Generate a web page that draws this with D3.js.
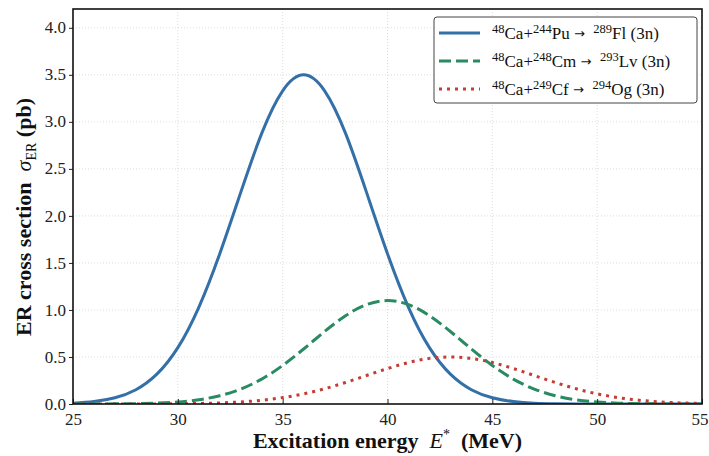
<!DOCTYPE html>
<html>
<head>
<meta charset="utf-8">
<script src="https://cdn.jsdelivr.net/npm/d3@7"></script>
<style>
  html, body { margin: 0; padding: 0; background: #fff; }
  svg { display: block; font-family: "Liberation Serif", "DejaVu Serif", serif; }
</style>
</head>
<body>
<div id="chart"></div>
<script>
// excitation energy grid (MeV) and cross sections (pb)
const energy = [25, 26, 27, 28, 29, 30, 31, 32, 33, 34, 35, 36, 37, 38, 39, 40,
  41, 42, 43, 44, 45, 46, 47, 48, 49, 50, 51, 52, 53, 54, 55];

const flValues = [0.009, 0.026, 0.066, 0.152, 0.317, 0.599, 1.028, 1.598, 2.25, 2.877, 3.33, 3.5,
  3.33, 2.877, 2.25, 1.598, 1.028, 0.599, 0.317, 0.152, 0.066, 0.026, 0.009, 0.003, 0.001, 0.0003,
  0.0001, 0, 0, 0, 0];
const lvValues = [0.0002, 0.0005, 0.0014, 0.0037, 0.0092, 0.021, 0.045, 0.088, 0.159, 0.265, 0.41,
  0.585, 0.771, 0.939, 1.057, 1.1, 1.057, 0.939, 0.771, 0.585, 0.41, 0.265, 0.159, 0.088, 0.045,
  0.021, 0.0092, 0.0037, 0.0014, 0.0005, 0.0002];
const ogValues = [0, 0.0001, 0.0002, 0.0004, 0.0011, 0.0026, 0.0056, 0.0114, 0.022, 0.040, 0.068,
  0.108, 0.162, 0.229, 0.303, 0.377, 0.441, 0.485, 0.5, 0.485, 0.441, 0.377, 0.303, 0.229, 0.162,
  0.108, 0.068, 0.040, 0.022, 0.0114, 0.0056];

const xTicks = [25, 30, 35, 40, 45, 50, 55];
const yTicks = [0, 0.5, 1, 1.5, 2, 2.5, 3, 3.5, 4];

// legend pieces: [projectile A, projectile+, target A, target, product A, product]
const series = [
  { name: ['48', 'Ca+', '244', 'Pu', '289', 'Fl (3n)'], values: flValues, color: '#3370a8', dash: null },
  { name: ['48', 'Ca+', '248', 'Cm', '293', 'Lv (3n)'], values: lvValues, color: '#2a8a62', dash: '12,5' },
  { name: ['48', 'Ca+', '249', 'Cf', '294', 'Og (3n)'], values: ogValues, color: '#c43c35', dash: '3,5' },
];

const W = 709, H = 456;
const M = { top: 9, right: 7, bottom: 52, left: 73 };
const iw = W - M.left - M.right, ih = H - M.top - M.bottom;

const svg = d3.select('#chart').append('svg').attr('width', W).attr('height', H);
const g = svg.append('g').attr('transform', `translate(${M.left},${M.top})`);

const x = d3.scaleLinear().domain([25, 55]).range([0, iw]);
const y = d3.scaleLinear().domain([0, 4.2]).range([ih, 0]);

// grid
g.append('g').selectAll('line').data(xTicks.slice(1, -1)).join('line')
  .attr('x1', d => x(d)).attr('x2', d => x(d)).attr('y1', 0).attr('y2', ih)
  .attr('stroke', '#d4d4d4').attr('stroke-width', 0.8).attr('stroke-dasharray', '1,2');
g.append('g').selectAll('line').data(yTicks.slice(1)).join('line')
  .attr('x1', 0).attr('x2', iw).attr('y1', d => y(d)).attr('y2', d => y(d))
  .attr('stroke', '#d4d4d4').attr('stroke-width', 0.8).attr('stroke-dasharray', '1,2');

// curves
const line = d3.line().x((d, i) => x(energy[i])).y(d => y(d)).curve(d3.curveNatural);
g.append('defs').append('clipPath').attr('id', 'clip')
  .append('rect').attr('width', iw).attr('height', ih);
series.forEach(s => {
  g.append('path').datum(s.values)
    .attr('clip-path', 'url(#clip)')
    .attr('d', line)
    .attr('fill', 'none')
    .attr('stroke', s.color)
    .attr('stroke-width', 3)
    .attr('stroke-dasharray', s.dash);
});

// axes: x ticks point in, y ticks point out
const xAxis = g.append('g').attr('transform', `translate(0,${ih})`)
  .call(d3.axisBottom(x).tickValues(xTicks).tickSize(-5).tickPadding(9).tickFormat(d3.format('d')));
const yAxis = g.append('g')
  .call(d3.axisLeft(y).tickValues(yTicks).tickSize(4).tickPadding(3).tickFormat(d3.format('.1f')));
[xAxis, yAxis].forEach(a => {
  a.select('.domain').remove();
  a.selectAll('line').attr('stroke', '#222').attr('stroke-width', 1);
  a.selectAll('text').attr('font-family', '"Liberation Serif", serif').attr('font-size', 17).attr('fill', '#222');
});
yAxis.selectAll('text').attr('dy', '0.3em');
// the last x label sits at the page edge, as in the original; keep it inside
xAxis.selectAll('.tick').filter(d => d === 55).select('text').attr('text-anchor', 'end').attr('dx', 6);

// frame
g.append('rect').attr('width', iw).attr('height', ih)
  .attr('fill', 'none').attr('stroke', '#111').attr('stroke-width', 1.6);

// axis titles
const xt = svg.append('text').attr('x', M.left + iw / 2).attr('y', 448)
  .attr('text-anchor', 'middle').attr('font-size', 22).attr('font-weight', 'bold').attr('fill', '#111')
  .attr('xml:space', 'preserve');
xt.append('tspan').text('Excitation energy  ');
xt.append('tspan').attr('font-style', 'italic').attr('font-weight', 'normal').text('E');
xt.append('tspan').attr('font-size', 14).attr('font-weight', 'normal').attr('dy', -9).text('*');
xt.append('tspan').attr('dy', 9).text('  (MeV)');

const yt = svg.append('text').attr('transform', 'translate(31,217) rotate(-90)')
  .attr('text-anchor', 'middle').attr('font-size', 22).attr('font-weight', 'bold').attr('fill', '#111')
  .attr('xml:space', 'preserve');
yt.append('tspan').text('ER cross section  ');
yt.append('tspan').attr('font-style', 'italic').attr('font-weight', 'normal').text('σ');
yt.append('tspan').attr('font-size', 14).attr('font-weight', 'normal').attr('dy', 5).text('ER');
yt.append('tspan').attr('dy', -5).text(' (pb)');

// legend
const lg = svg.append('g').attr('transform', 'translate(434,17)');
lg.append('rect').attr('width', 263).attr('height', 86).attr('rx', 3)
  .attr('fill', '#fff').attr('stroke', '#444').attr('stroke-width', 1);
series.forEach((s, i) => {
  const row = lg.append('g').attr('transform', `translate(0,${16 + i * 28})`);
  row.append('line').attr('x1', 5).attr('x2', 46).attr('y1', 0).attr('y2', 0)
    .attr('stroke', s.color).attr('stroke-width', 3).attr('stroke-dasharray', s.dash);
  const t = row.append('text').attr('x', 58).attr('y', 6).attr('font-size', 17).attr('fill', '#111')
    .attr('xml:space', 'preserve');
  const [a1, el1, a2, el2, a3, rest] = s.name;
  t.append('tspan').attr('font-size', 12.5).attr('dy', -6).text(a1);
  t.append('tspan').attr('dy', 6).text(el1);
  t.append('tspan').attr('font-size', 12.5).attr('dy', -6).text(a2);
  t.append('tspan').attr('dy', 6).text(el2 + ' ');
  t.append('tspan').attr('font-family', '"DejaVu Sans", sans-serif').attr('font-size', 13).attr('dy', -1).text('→');
  t.append('tspan').attr('dy', 1).text('  ');
  t.append('tspan').attr('font-size', 12.5).attr('dy', -6).text(a3);
  t.append('tspan').attr('dy', 6).text(rest);
});
</script>
</body>
</html>
